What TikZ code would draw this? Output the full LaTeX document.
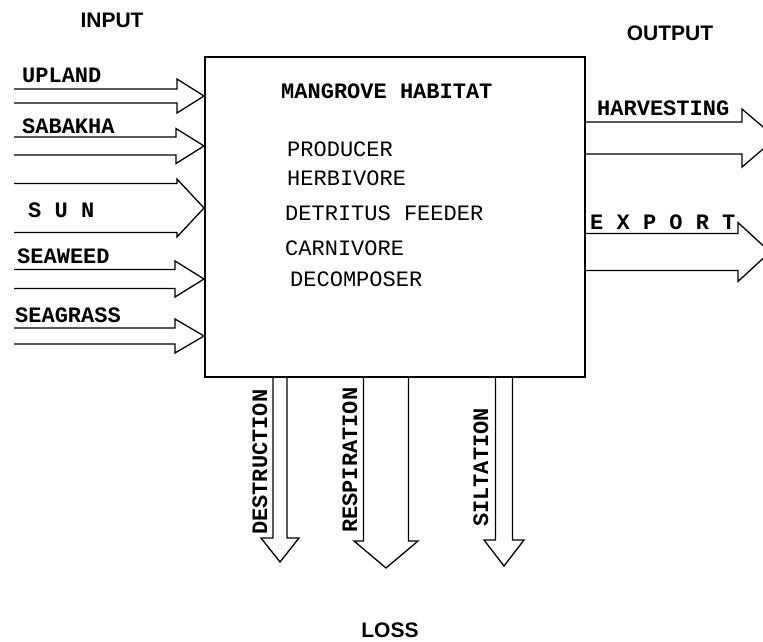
\documentclass[tikz,border=0pt]{standalone}
\usepackage{fontspec}
\usetikzlibrary{calc}
\newfontfamily\twfont{Liberation Mono}
\newfontfamily\hdfont{Liberation Sans}
\tikzset{
 arr/.style={line width=1.3pt, line join=miter},
 lbl/.style={font=\twfont\bfseries\fontsize{22}{22}\selectfont, anchor=base west, inner sep=0pt},
 item/.style={font=\twfont\fontsize{22}{22}\selectfont, anchor=base west, inner sep=0pt},
 hd/.style={font=\hdfont\bfseries\fontsize{21}{21}\selectfont, inner sep=0pt},
 habitat/.style={draw, line width=2pt, inner sep=0pt, minimum width=380pt, minimum height=320pt}
}
% hollow arrow pointing right: #1 tail, #2 tip, #3 half width, #4 head half width, #5 head length
\newcommand\rarr[5]{%
 \draw[arr] ($(#1)+(0,-#3)$) -- ($(#2)+(-#5,-#3)$) -- ($(#2)+(-#5,-#4)$) -- (#2)
   -- ($(#2)+(-#5,#4)$) -- ($(#2)+(-#5,#3)$) -- ($(#1)+(0,#3)$);}
% hollow arrow pointing down
\newcommand\darr[5]{%
 \draw[arr] ($(#1)+(-#3,0)$) -- ($(#2)+(-#3,-#5)$) -- ($(#2)+(-#4,-#5)$) -- (#2)
   -- ($(#2)+(#4,-#5)$) -- ($(#2)+(#3,-#5)$) -- ($(#1)+(#3,0)$);}
\begin{document}
\begin{tikzpicture}[x=1pt,y=-1pt]
\useasboundingbox (0,0) rectangle (763,642);
\node[habitat] (box) at (395,217) {};

% inputs
\coordinate (upland) at (14,96);
\coordinate (uplandTip) at (box.west |- upland);
\rarr{upland}{uplandTip}{7}{17}{27}
\coordinate (sabakha) at (14,146);
\coordinate (sabakhaTip) at (box.west |- sabakha);
\rarr{sabakha}{sabakhaTip}{9}{17.5}{28}
\coordinate (sun) at (14,208);
\coordinate (sunTip) at (box.west |- sun);
\rarr{sun}{sunTip}{24.5}{29}{27}
\coordinate (seaweed) at (14,279);
\coordinate (seaweedTip) at (box.west |- seaweed);
\rarr{seaweed}{seaweedTip}{9.5}{18}{29}
\coordinate (seagrass) at (14,336);
\coordinate (seagrassTip) at (box.west |- seagrass);
\rarr{seagrass}{seagrassTip}{8}{17}{29}

% outputs
\coordinate (harvTip) at (776,138);
\coordinate (harv) at (box.east |- harvTip);
\rarr{harv}{harvTip}{16}{29}{34}
\coordinate (exportTip) at (770,252);
\coordinate (export) at (box.east |- exportTip);
\rarr{export}{exportTip}{18.5}{29.5}{32}

% losses
\coordinate (destTip) at (280,562);
\coordinate (dest) at (box.south -| destTip);
\darr{dest}{destTip}{7}{19}{24}
\coordinate (respTip) at (386,568);
\coordinate (resp) at (box.south -| respTip);
\darr{resp}{respTip}{22.5}{32}{27}
\coordinate (siltTip) at (504,566);
\coordinate (silt) at (box.south -| siltTip);
\darr{silt}{siltTip}{8.5}{20}{26}

% labels
\node[lbl] (uplandL) at (22,82) {UPLAND};
\node[lbl] (sabakhaL) at (22,133) {SABAKHA};
\node[lbl] (sunL) at (28,217) {S U N};
\node[lbl] (seaweedL) at (17,263) {SEAWEED};
\node[lbl] (seagrassL) at (15,322) {SEAGRASS};
\node[lbl] (harvL) at (597,115) {HARVESTING};
\node[lbl] (exportL) at (590,229) {E X P O R T};
\node[lbl, rotate=90] (destL) at (267,535) {DESTRUCTION};
\node[lbl, rotate=90] (respL) at (357,533) {RESPIRATION};
\node[lbl, rotate=90] (siltL) at (488,527) {SILTATION};

% box contents
\node[lbl] (title) at (281,99) {MANGROVE HABITAT};
\node[item] (prod) at (287,156) {PRODUCER};
\node[item] (herb) at (287,185) {HERBIVORE};
\node[item] (detr) at (285,220) {DETRITUS FEEDER};
\node[item] (carn) at (285,255) {CARNIVORE};
\node[item] (deco) at (290,286) {DECOMPOSER};

% headings
\node[hd] (inputL) at (112,20) {INPUT};
\node[hd] (outputL) at (670,33) {OUTPUT};
\node[hd, anchor=base] (lossL) at (390,637) {LOSS};
\end{tikzpicture}
\end{document}
